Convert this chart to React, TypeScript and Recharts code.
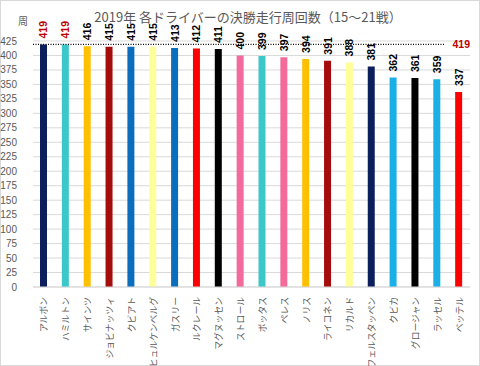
import React from "react";
import { BarChart, Bar, XAxis, YAxis, CartesianGrid, Cell, LabelList, ReferenceLine } from "recharts";

const drivers = ["アルボン","ハミルトン","サインツ","ジョビナッツィ","クビアト","ヒュルケンベルグ","ガスリー","ルクレール","マグヌッセン","ストロール","ボッタス","ペレス","ノリス","ライコネン","リカルド","フェルスタッペン","クビカ","グロージャン","ラッセル","ベッテル"];
const laps = [419,419,416,415,415,415,413,412,411,400,399,397,394,391,388,381,362,361,359,337];
const colors = ["#0c1f5c","#3cc8c8","#ffc000","#a50d0d","#0a6ebd","#ffff99","#0a6ebd","#ff0000","#000000","#f26b9c","#3cc8c8","#f26b9c","#ffc000","#a50d0d","#ffff99","#0c1f5c","#1aafe6","#000000","#1aafe6","#ff0000"];
const yTicks = [0,25,50,75,100,125,150,175,200,225,250,275,300,325,350,375,400,425];
const maxLaps = 419;
const title = "2019年 各ドライバーの決勝走行周回数（15〜21戦）";

const data = drivers.map((d, i) => ({ name: d, laps: laps[i] }));

const XTick = (props: any) => {
  const { x, y, payload } = props;
  return (
    <text x={x} y={y} transform={`rotate(-90 ${x} ${y})`} textAnchor="end" dominantBaseline="central"
      fontSize={8.8} fill="#595959" fontFamily="'Noto Sans CJK JP'">{payload.value}</text>
  );
};

const BarLabel = (props: any) => {
  const { x, y, width, value } = props;
  const cx = x + width / 2;
  const cy = y - 6;
  return (
    <text x={cx} y={cy} transform={`rotate(-90 ${cx} ${cy})`} textAnchor="start" dominantBaseline="central"
      fontSize={10.5} fontWeight="bold" fill={value === maxLaps ? "#c00000" : "#000"} fontFamily="'Liberation Sans', Arial">{value}</text>
  );
};

const RefShape = (props: any) => {
  const { x1, x2, y1 } = props;
  return (
    <g>
      <line x1={x1} x2={x2 - 26} y1={y1} y2={y1} stroke="#000" strokeWidth={1.2} strokeDasharray="1 1.5" />
      <text x={x2} y={y1} textAnchor="end" dominantBaseline="central" fontSize={10.5} fontWeight="bold"
        fill="#c00000" fontFamily="'Liberation Sans', Arial">{maxLaps}</text>
    </g>
  );
};

export default function App() {
  return (
    <div style={{ position: "absolute", left: 0, top: 0, width: 480, height: 366, background: "#fff" }}>
      <svg width={480} height={366} style={{ position: "absolute", left: 0, top: 0 }}>
        <rect x={0.5} y={0.5} width={479} height={365} fill="#fff" stroke="#d9d9d9" />
        <text x={248} y={16} textAnchor="middle" dominantBaseline="central" fontSize={13} fill="#595959"
          fontFamily="'Noto Sans CJK JP'">{title}</text>
        <text x={23} y={20} textAnchor="middle" dominantBaseline="central" fontSize={10} fill="#595959"
          fontFamily="'Noto Sans CJK JP'">周</text>
      </svg>
      <div style={{ position: "absolute", left: 0, top: 0 }}>
        <BarChart width={480} height={366} data={data} margin={{ top: 41, right: 10, bottom: 0, left: 0 }}>
          <CartesianGrid vertical={false} stroke="#d9d9d9" />
          <XAxis dataKey="name" interval={0} tick={<XTick />} tickLine={false} axisLine={{ stroke: "#d9d9d9" }} height={79} tickMargin={4} />
          <YAxis domain={[0, 425]} ticks={yTicks} interval={0} width={33} tickLine={false} axisLine={false}
            tick={{ fontSize: 10, fill: "#595959", fontFamily: "'Liberation Sans', Arial" }} tickMargin={10} />
          <ReferenceLine y={maxLaps} shape={<RefShape />} />
          <Bar dataKey="laps" barSize={7} isAnimationActive={false}>
            {data.map((d, i) => <Cell key={d.name} fill={colors[i]} />)}
            <LabelList dataKey="laps" content={<BarLabel />} />
          </Bar>
        </BarChart>
      </div>
    </div>
  );
}
